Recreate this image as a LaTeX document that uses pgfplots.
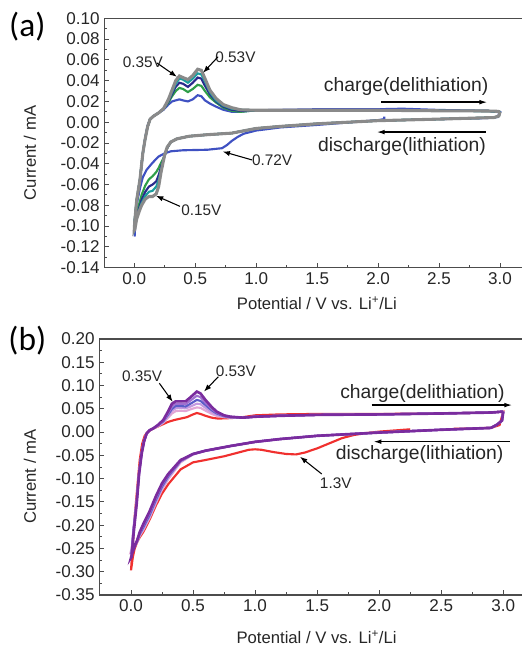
\documentclass[border=0pt]{standalone}
\usepackage{pgfplots}
\pgfplotsset{compat=1.18}
\usepackage{fontspec}
\setmainfont{Liberation Sans}
\newfontfamily\carlito{Carlito}
\usetikzlibrary{arrows.meta}

\definecolor{cblue}{HTML}{3F51C2}
\definecolor{cgreen}{HTML}{2E9E48}
\definecolor{cnavy}{HTML}{2A2A8C}
\definecolor{cteal}{HTML}{1A9E9E}
\definecolor{cgray}{HTML}{8A8A8A}
\definecolor{cred}{HTML}{F0302E}
\definecolor{cpink}{HTML}{E2A6D6}
\definecolor{clav}{HTML}{C49AE0}
\definecolor{cslate}{HTML}{5C5CC8}
\definecolor{cviolet}{HTML}{A070D0}
\definecolor{cpurple}{HTML}{7A2C9E}

\pgfplotsset{
  cvstyle/.style={
    scale only axis,
    axis x line*=box, axis y line*=left,
    xtick pos=bottom, ytick pos=left,
    tick align=inside,
    major tick length=3.5pt, minor tick length=2pt,
    minor x tick num=1, minor y tick num=1,
    axis line style={draw=black!70, line width=0.8pt},
    every tick/.style={black!70, line width=0.7pt},
    /pgf/number format/assume math mode=true,
    tick label style={font=\fontsize{12.8}{14}\selectfont, text=black!85},
    label style={font=\fontsize{12.5}{14}\selectfont, text=black!85},
    xticklabel style={/pgf/number format/.cd, assume math mode=true, fixed, fixed zerofill, precision=1},
    yticklabel style={/pgf/number format/.cd, assume math mode=true, fixed, fixed zerofill, precision=2},
    xtick={0,0.5,1,1.5,2,2.5,3},
    xlabel={Potential / V vs. Li\textsuperscript{+}/Li},
    ylabel={Current / mA},
  },
}
\tikzset{
  ann/.style={font=\fontsize{11.5}{13}\selectfont, text=black!85},
  big/.style={font=\fontsize{14.5}{16}\selectfont, text=black!85},
  arr/.style={-{Latex[length=5.5pt,width=4pt]}, line width=0.8pt, black},
  arrb/.style={-{Latex[length=6pt,width=3.5pt]}, line width=1pt, black},
}

\begin{document}
\begin{tikzpicture}
\useasboundingbox (0,0) rectangle (391.5pt,486.75pt);

\node[font=\carlito\fontsize{25}{28}\selectfont] at (20.5pt,467pt) {(a)};
\node[font=\carlito\fontsize{25}{28}\selectfont] at (20.5pt,231pt) {(b)};

% ---------------- panel (a)
\begin{axis}[cvstyle,
  at={(78.2pt,286pt)}, anchor=south west,
  width=313.3pt, height=187pt,
  xmin=-0.246, xmax=3.18, ymin=-0.14, ymax=0.10,
  ytick={-0.14,-0.12,-0.10,-0.08,-0.06,-0.04,-0.02,0,0.02,0.04,0.06,0.08,0.10},
  ylabel style={at={(axis description cs:-0.178,0.46)}, anchor=center},
  xlabel style={at={(axis description cs:0.509,-0.1415)}, anchor=center},
]
% cycle 1 (blue)
\addplot[cblue, line width=1.6pt] coordinates {
(2.05,0.0055)(2.05,0.003)(2.0,0.002)(1.5,-0.0026)(1.2,-0.005)(1.0,-0.008)(0.9,-0.011)(0.85,-0.014)(0.8,-0.018)(0.76,-0.022)(0.72,-0.025)(0.6,-0.0265)(0.4,-0.027)(0.3,-0.028)(0.25,-0.03)(0.2,-0.033)(0.15,-0.039)(0.1,-0.046)(0.07,-0.053)(0.05,-0.062)(0.03,-0.073)(0.015,-0.085)(0.005,-0.1)(0.003,-0.11)
(0.01,-0.095)(0.02,-0.078)(0.047,-0.055)(0.07,-0.03)(0.09,-0.015)(0.11,-0.003)(0.13,0.003)(0.16,0.006)(0.2,0.009)(0.24,0.012)(0.28,0.017)(0.31,0.020)(0.34,0.021)(0.37,0.022)(0.40,0.021)(0.44,0.020)(0.48,0.022)(0.52,0.026)(0.55,0.025)(0.58,0.021)(0.62,0.018)(0.67,0.015)(0.73,0.012)(0.8,0.010)(0.87,0.010)(1.0,0.0115)(1.5,0.0125)(2.0,0.0125)(2.2,0.013)(2.5,0.0118)(2.9,0.011)(3.0,0.0095)(2.98,0.005)(2.9,0.004)(2.5,0.003)
};
% cycle 2 (green)
\addplot[cgreen, line width=1.6pt] coordinates {
(3.0,0.010)(2.99,0.006)(2.95,0.0045)(2.5,0.003)(2.0,0.0015)(1.5,-0.0015)(1.2,-0.004)(1.0,-0.006)(0.8,-0.0105)(0.6,-0.012)(0.45,-0.0135)(0.35,-0.016)(0.3,-0.019)(0.27,-0.025)(0.25,-0.032)(0.22,-0.039)(0.2,-0.044)(0.18,-0.048)(0.15,-0.052)(0.12,-0.055)(0.09,-0.061)(0.06,-0.07)(0.04,-0.079)(0.02,-0.088)(0.005,-0.098)
(0.003,-0.095)(0.02,-0.075)(0.047,-0.055)(0.07,-0.03)(0.088,-0.017)(0.11,-0.004)(0.13,0.003)(0.16,0.006)(0.2,0.009)(0.24,0.013)(0.28,0.019)(0.31,0.025)(0.34,0.030)(0.37,0.033)(0.40,0.032)(0.44,0.029)(0.48,0.032)(0.52,0.036)(0.55,0.035)(0.58,0.030)(0.62,0.024)(0.67,0.019)(0.73,0.014)(0.8,0.011)(0.87,0.010)(1.0,0.0115)(1.5,0.0115)(2.0,0.0115)(2.5,0.011)(2.9,0.0108)(3.0,0.010)
};
% cycle 3 (navy)
\addplot[cnavy, line width=1.6pt] coordinates {
(3.0,0.010)(2.99,0.006)(2.95,0.0045)(2.5,0.003)(2.0,0.0015)(1.5,-0.0015)(1.2,-0.004)(1.0,-0.006)(0.8,-0.0105)(0.6,-0.012)(0.45,-0.0135)(0.35,-0.016)(0.3,-0.019)(0.27,-0.025)(0.25,-0.032)(0.22,-0.043)(0.2,-0.051)(0.18,-0.057)(0.15,-0.060)(0.12,-0.062)(0.09,-0.067)(0.06,-0.075)(0.04,-0.083)(0.02,-0.090)(0.005,-0.099)
(0.003,-0.095)(0.02,-0.075)(0.047,-0.055)(0.07,-0.03)(0.088,-0.017)(0.11,-0.004)(0.13,0.003)(0.16,0.006)(0.2,0.009)(0.24,0.013)(0.28,0.020)(0.31,0.027)(0.34,0.034)(0.37,0.038)(0.40,0.037)(0.44,0.034)(0.48,0.038)(0.52,0.043)(0.55,0.042)(0.58,0.035)(0.62,0.027)(0.67,0.020)(0.73,0.015)(0.8,0.012)(0.87,0.011)(1.0,0.0115)(1.5,0.0115)(2.0,0.0115)(2.5,0.011)(2.9,0.0108)(3.0,0.010)
};
% cycle 4 (teal)
\addplot[cteal, line width=1.6pt] coordinates {
(3.0,0.010)(2.99,0.006)(2.95,0.0045)(2.5,0.003)(2.0,0.0015)(1.5,-0.0015)(1.2,-0.004)(1.0,-0.006)(0.8,-0.0105)(0.6,-0.012)(0.45,-0.0135)(0.35,-0.016)(0.3,-0.019)(0.27,-0.024)(0.25,-0.031)(0.22,-0.046)(0.2,-0.056)(0.18,-0.062)(0.15,-0.066)(0.12,-0.067)(0.09,-0.071)(0.06,-0.078)(0.04,-0.085)(0.02,-0.092)(0.005,-0.100)
(0.003,-0.096)(0.02,-0.075)(0.047,-0.055)(0.07,-0.03)(0.088,-0.017)(0.11,-0.004)(0.13,0.003)(0.16,0.006)(0.2,0.009)(0.24,0.013)(0.28,0.021)(0.31,0.029)(0.34,0.037)(0.37,0.042)(0.40,0.041)(0.44,0.038)(0.48,0.042)(0.52,0.047)(0.55,0.046)(0.58,0.039)(0.62,0.029)(0.67,0.021)(0.73,0.016)(0.8,0.013)(0.87,0.012)(1.0,0.0115)(1.5,0.0115)(2.0,0.0115)(2.5,0.011)(2.9,0.0108)(3.0,0.010)
};
% cycle 5 (gray)
\addplot[cgray, line width=2.3pt] coordinates {
(3.0,0.010)(2.99,0.006)(2.95,0.0045)(2.5,0.003)(2.0,0.0015)(1.5,-0.0015)(1.2,-0.004)(1.0,-0.006)(0.8,-0.0105)(0.6,-0.012)(0.45,-0.0135)(0.35,-0.016)(0.3,-0.019)(0.27,-0.024)(0.25,-0.031)(0.22,-0.048)(0.2,-0.062)(0.18,-0.069)(0.15,-0.0715)(0.12,-0.0715)(0.09,-0.074)(0.06,-0.080)(0.04,-0.086)(0.02,-0.093)(0.005,-0.103)(0.0,-0.104)
(0.003,-0.097)(0.02,-0.075)(0.047,-0.055)(0.07,-0.03)(0.088,-0.017)(0.11,-0.004)(0.13,0.003)(0.16,0.006)(0.2,0.009)(0.24,0.013)(0.28,0.022)(0.31,0.031)(0.34,0.040)(0.37,0.0445)(0.40,0.043)(0.44,0.041)(0.48,0.045)(0.52,0.051)(0.55,0.050)(0.58,0.042)(0.62,0.031)(0.67,0.023)(0.73,0.017)(0.8,0.014)(0.87,0.012)(1.0,0.0115)(1.5,0.0115)(2.0,0.0115)(2.5,0.011)(2.9,0.0108)(2.98,0.0105)(3.0,0.010)
};
\node[ann] at (axis cs:0.07,0.058) {0.35V};
\draw[arr] (axis cs:0.186,0.057) -- (axis cs:0.35,0.0437);
\node[ann] at (axis cs:0.83,0.0625) {0.53V};
\draw[arr] (axis cs:0.687,0.063) -- (axis cs:0.564,0.0475);
\node[ann] at (axis cs:1.13,-0.037) {0.72V};
\draw[arr] (axis cs:0.965,-0.0363) -- (axis cs:0.725,-0.0282);
\node[ann] at (axis cs:0.55,-0.085) {0.15V};
\draw[arr] (axis cs:0.375,-0.081) -- (axis cs:0.178,-0.0708);
\node[big] at (axis cs:2.23,0.034) {charge(delithiation)};
\draw[arrb] (axis cs:2.025,0.0193) -- (axis cs:2.896,0.0193);
\node[big] at (axis cs:2.196,-0.0234) {discharge(lithiation)};
\draw[arrb] (axis cs:2.883,-0.0095) -- (axis cs:1.988,-0.0095);
\end{axis}

% ---------------- panel (b)
\begin{axis}[cvstyle,
  at={(74.5pt,40.5pt)}, anchor=south west,
  width=317pt, height=192pt,
  xmin=-0.2554, xmax=3.151, ymin=-0.35, ymax=0.20,
  ytick={-0.35,-0.30,-0.25,-0.20,-0.15,-0.10,-0.05,0,0.05,0.10,0.15,0.20},
  ylabel style={at={(axis description cs:-0.164,0.462)}, anchor=center},
  xlabel style={at={(axis description cs:0.514,-0.166)}, anchor=center},
]
% cycle 1 (red)
\addplot[cred, line width=1.6pt] coordinates {
(2.25,0.006)(2.1,0.003)(2.0,0.001)(1.9,-0.002)(1.8,-0.006)(1.7,-0.013)(1.6,-0.024)(1.5,-0.035)(1.4,-0.044)(1.33,-0.048)(1.25,-0.047)(1.15,-0.043)(1.05,-0.038)(1.0,-0.037)(0.95,-0.038)(0.85,-0.045)(0.75,-0.052)(0.6,-0.060)(0.5,-0.065)(0.4,-0.080)(0.3,-0.112)(0.25,-0.132)(0.2,-0.158)(0.15,-0.188)(0.1,-0.214)(0.07,-0.226)(0.05,-0.236)(0.03,-0.250)(0.015,-0.268)(0.0,-0.297)
(0.003,-0.285)(0.015,-0.24)(0.03,-0.18)(0.05,-0.12)(0.07,-0.06)(0.09,-0.025)(0.11,-0.008)(0.13,-0.001)(0.16,0.005)(0.2,0.010)(0.25,0.016)(0.3,0.022)(0.35,0.026)(0.4,0.029)(0.45,0.032)(0.5,0.038)(0.53,0.041)(0.56,0.039)(0.6,0.035)(0.65,0.031)(0.7,0.029)(0.8,0.030)(0.9,0.032)(1.0,0.036)(1.2,0.038)(1.5,0.039)(2.0,0.039)(2.5,0.040)(2.9,0.042)(3.0,0.044)(2.97,0.015)(2.9,0.009)(2.6,0.007)
};
% cycle 2 (pink)
\addplot[cpink, line width=1.6pt] coordinates {
(3.0,0.044)(2.99,0.025)(2.95,0.016)(2.9,0.009)(2.5,0.005)(2.0,-0.001)(1.5,-0.008)(1.2,-0.015)(1.0,-0.021)(0.8,-0.030)(0.6,-0.040)(0.5,-0.048)(0.4,-0.065)(0.3,-0.101)(0.25,-0.123)(0.2,-0.153)(0.15,-0.184)(0.1,-0.210)(0.07,-0.223)(0.05,-0.236)(0.03,-0.245)(0.01,-0.252)(0.0,-0.255)
(0.005,-0.250)(0.02,-0.205)(0.046,-0.145)(0.065,-0.085)(0.086,-0.044)(0.105,-0.019)(0.126,-0.003)(0.15,0.004)(0.18,0.008)(0.22,0.013)(0.26,0.020)(0.3,0.031)(0.33,0.040)(0.36,0.045)(0.4,0.046)(0.44,0.045)(0.48,0.049)(0.53,0.053)(0.56,0.052)(0.6,0.046)(0.65,0.039)(0.69,0.035)(0.75,0.032)(0.8,0.031)(0.9,0.031)(1.0,0.033)(1.2,0.035)(1.5,0.037)(2.0,0.038)(2.5,0.040)(2.9,0.042)(3.0,0.044)
};
% cycle 3 (lavender)
\addplot[clav, line width=1.6pt] coordinates {
(3.0,0.044)(2.99,0.025)(2.95,0.016)(2.9,0.009)(2.5,0.005)(2.0,-0.001)(1.5,-0.008)(1.2,-0.015)(1.0,-0.021)(0.8,-0.030)(0.6,-0.040)(0.5,-0.048)(0.4,-0.063)(0.3,-0.098)(0.25,-0.120)(0.2,-0.150)(0.15,-0.181)(0.1,-0.207)(0.07,-0.221)(0.05,-0.235)(0.03,-0.245)(0.01,-0.254)(0.0,-0.258)
(0.005,-0.255)(0.02,-0.208)(0.046,-0.146)(0.065,-0.086)(0.086,-0.044)(0.105,-0.019)(0.126,-0.003)(0.15,0.004)(0.18,0.008)(0.22,0.014)(0.26,0.022)(0.3,0.035)(0.33,0.046)(0.36,0.051)(0.4,0.052)(0.44,0.051)(0.48,0.055)(0.53,0.061)(0.56,0.060)(0.6,0.052)(0.65,0.043)(0.69,0.037)(0.75,0.033)(0.8,0.031)(0.9,0.031)(1.0,0.033)(1.2,0.035)(1.5,0.037)(2.0,0.038)(2.5,0.040)(2.9,0.042)(3.0,0.044)
};
% cycle 4 (slate blue)
\addplot[cslate, line width=1.6pt] coordinates {
(3.0,0.044)(2.99,0.025)(2.95,0.016)(2.9,0.009)(2.5,0.005)(2.0,-0.001)(1.5,-0.008)(1.2,-0.015)(1.0,-0.021)(0.8,-0.030)(0.6,-0.040)(0.5,-0.047)(0.4,-0.062)(0.3,-0.095)(0.25,-0.117)(0.2,-0.146)(0.15,-0.178)(0.1,-0.204)(0.07,-0.219)(0.05,-0.234)(0.03,-0.245)(0.01,-0.256)(0.0,-0.262)
(0.005,-0.258)(0.02,-0.210)(0.046,-0.148)(0.065,-0.087)(0.086,-0.045)(0.105,-0.020)(0.126,-0.003)(0.15,0.004)(0.18,0.008)(0.22,0.015)(0.26,0.023)(0.3,0.038)(0.33,0.050)(0.36,0.056)(0.4,0.056)(0.44,0.055)(0.48,0.061)(0.53,0.069)(0.56,0.067)(0.6,0.058)(0.65,0.047)(0.69,0.040)(0.75,0.034)(0.8,0.032)(0.9,0.031)(1.0,0.033)(1.2,0.035)(1.5,0.037)(2.0,0.038)(2.5,0.040)(2.9,0.042)(3.0,0.044)
};
% cycle 5 (violet)
\addplot[cviolet, line width=1.6pt] coordinates {
(3.0,0.044)(2.99,0.025)(2.95,0.016)(2.9,0.009)(2.5,0.005)(2.0,-0.001)(1.5,-0.008)(1.2,-0.015)(1.0,-0.021)(0.8,-0.030)(0.6,-0.040)(0.5,-0.047)(0.4,-0.061)(0.3,-0.092)(0.25,-0.113)(0.2,-0.142)(0.15,-0.174)(0.1,-0.200)(0.07,-0.217)(0.05,-0.233)(0.03,-0.245)(0.01,-0.258)(0.0,-0.265)
(0.005,-0.262)(0.02,-0.215)(0.046,-0.150)(0.065,-0.088)(0.086,-0.045)(0.105,-0.020)(0.126,-0.003)(0.15,0.004)(0.18,0.008)(0.22,0.015)(0.26,0.024)(0.3,0.041)(0.33,0.055)(0.36,0.061)(0.4,0.061)(0.44,0.060)(0.48,0.068)(0.53,0.078)(0.56,0.075)(0.6,0.063)(0.65,0.050)(0.69,0.042)(0.75,0.035)(0.8,0.033)(0.9,0.031)(1.0,0.033)(1.2,0.035)(1.5,0.037)(2.0,0.038)(2.5,0.040)(2.9,0.042)(3.0,0.044)
};
% cycle 6 (dark purple)
\addplot[cpurple, line width=2pt] coordinates {
(3.0,0.044)(2.99,0.025)(2.95,0.016)(2.9,0.009)(2.5,0.005)(2.0,-0.001)(1.5,-0.008)(1.2,-0.015)(1.0,-0.021)(0.8,-0.030)(0.6,-0.040)(0.5,-0.047)(0.4,-0.060)(0.3,-0.090)(0.25,-0.110)(0.2,-0.138)(0.15,-0.170)(0.1,-0.197)(0.07,-0.215)(0.05,-0.232)(0.03,-0.245)(0.01,-0.260)(0.0,-0.270)
(0.005,-0.268)(0.02,-0.220)(0.046,-0.153)(0.065,-0.090)(0.086,-0.046)(0.105,-0.020)(0.126,-0.003)(0.15,0.004)(0.18,0.008)(0.22,0.016)(0.26,0.026)(0.3,0.045)(0.33,0.061)(0.36,0.066)(0.4,0.066)(0.44,0.066)(0.48,0.075)(0.53,0.087)(0.56,0.083)(0.6,0.069)(0.65,0.054)(0.69,0.044)(0.75,0.036)(0.8,0.033)(0.9,0.031)(1.0,0.033)(1.2,0.035)(1.5,0.037)(2.0,0.038)(2.5,0.040)(2.9,0.042)(3.0,0.044)
};
\node[ann] at (axis cs:0.09,0.119) {0.35V};
\draw[arr] (axis cs:0.228,0.105) -- (axis cs:0.336,0.065);
\node[ann] at (axis cs:0.845,0.130) {0.53V};
\draw[arr] (axis cs:0.704,0.119) -- (axis cs:0.588,0.087);
\node[ann] at (axis cs:1.65,-0.110) {1.3V};
\draw[arr] (axis cs:1.537,-0.090) -- (axis cs:1.362,-0.053);
\node[big] at (axis cs:2.349,0.083) {charge(delithiation)};
\draw[arrb] (axis cs:1.94,0.058) -- (axis cs:3.073,0.058);
\node[big] at (axis cs:2.326,-0.048) {discharge(lithiation)};
\draw[arrb] (axis cs:3.054,-0.0206) -- (axis cs:1.953,-0.0206);
\end{axis}
\end{tikzpicture}
\end{document}
